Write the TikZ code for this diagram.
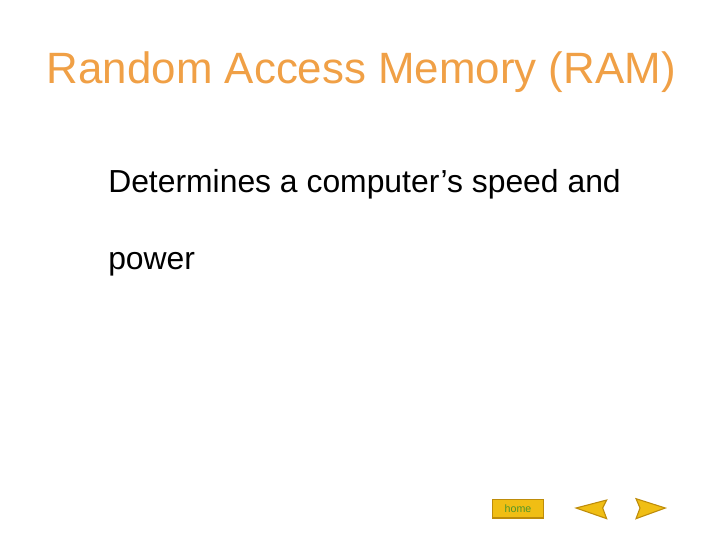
\documentclass[tikz,border=0pt]{standalone}
\usepackage{fontspec}
\setmainfont{Liberation Sans}
\definecolor{ttl}{RGB}{240,160,70}
\definecolor{gold}{RGB}{240,190,20}
\definecolor{dgold}{RGB}{190,140,10}
\definecolor{hgreen}{RGB}{80,150,40}
\begin{document}
\begin{tikzpicture}[x=1pt,y=-1pt,
  txt/.style={anchor=base west,inner sep=0,font=\fontsize{23.9}{28}\selectfont},
  btn/.style={fill=gold,draw=dgold,line width=0.8pt}]
\useasboundingbox (0,0) rectangle (540,405);
\node[anchor=base,inner sep=0,text=ttl,font=\fontsize{32.9}{38}\selectfont] (title) at (271,62.5) {Random Access Memory (RAM)};
\node[txt] (l1) at (81,144) {Determines a computer’s speed and};
\node[txt] (l2) at (81,202) {power};
\node[btn,minimum width=38pt,minimum height=14pt,inner sep=0,text=hgreen,font=\fontsize{8}{9}\selectfont] (home) at (388.5,381.5) {home};
\draw[btn] (432,381) -- (455,375) -- (452,381) -- (455,389) -- cycle;
\draw[btn] (499,381) -- (477,374) -- (480,381) -- (477,389) -- cycle;
\end{tikzpicture}
\end{document}
